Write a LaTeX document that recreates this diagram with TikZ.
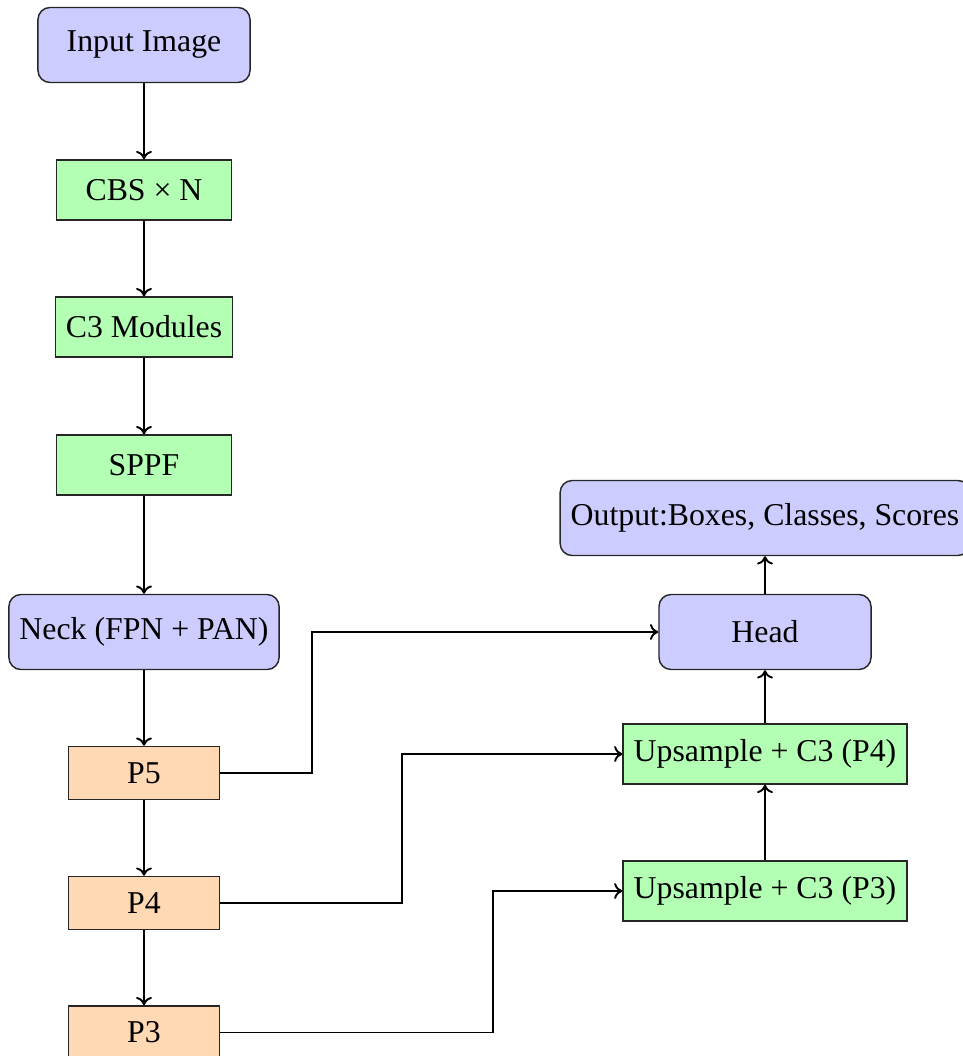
\documentclass[tikz,border=0pt]{standalone}
\usepackage{fontspec}
\setmainfont{Liberation Serif}
\usetikzlibrary{arrows.meta}
\definecolor{bluebox}{HTML}{CCCCFF}
\definecolor{greenbox}{HTML}{B3FFB3}
\definecolor{orangebox}{HTML}{FFD9B3}
\tikzset{
  rbox/.style={draw=black!85, line width=0.45pt, fill=bluebox, rounded corners=3.8pt, minimum width=66.7pt, minimum height=23.6pt, inner sep=3.33pt, align=center},
  gbox/.style={draw=black!85, line width=0.45pt, fill=greenbox, minimum width=55pt, minimum height=18.9pt, inner sep=3.33pt},
  obox/.style={draw=black!85, line width=0.45pt, fill=orangebox, minimum width=47.5pt, minimum height=16.7pt, inner sep=3.33pt},
  conn/.style={-{To[length=2.6pt,width=5pt]}, line width=0.6pt, black},
}
\begin{document}
\begin{tikzpicture}[x=0.3145pt, y=-0.3145pt]
\useasboundingbox (0,0) rectangle (963,1056);
\node[rbox] (input) at (144,45) {Input Image};
\node[gbox] (cbs) at (144,190) {CBS × N};
\node[gbox] (c3) at (144,327) {C3 Modules};
\node[gbox] (sppf) at (144,465) {SPPF};
\node[rbox] (neck) at (144,632) {Neck (FPN + PAN)};
\node[obox] (p5) at (144,773) {P5};
\node[obox] (p4) at (144,903) {P4};
\node[obox] (p3) at (144,1032.5) {P3};
\node[rbox] (out) at (765,518) {Output:Boxes, Classes, Scores};
\node[rbox] (head) at (765,632) {Head};
\node[gbox] (up4) at (765,754) {Upsample + C3 (P4)};
\node[gbox] (up3) at (765,891) {Upsample + C3 (P3)};
\draw[conn] (input) -- (cbs);
\draw[conn] (cbs) -- (c3);
\draw[conn] (c3) -- (sppf);
\draw[conn] (sppf) -- (neck);
\draw[conn] (neck) -- (p5);
\draw[conn] (p5) -- (p4);
\draw[conn] (p4) -- (p3);
\draw[conn] (p5.east) -- (312,773) |- (head.west);
\draw[conn] (p4.east) -- (402,903) |- (up4.west);
\draw[conn] (p3.east) -- (493,1032.5) |- (up3.west);
\draw[conn] (up3) -- (up4);
\draw[conn] (up4) -- (head);
\draw[conn] (head) -- (out);
\end{tikzpicture}
\end{document}
